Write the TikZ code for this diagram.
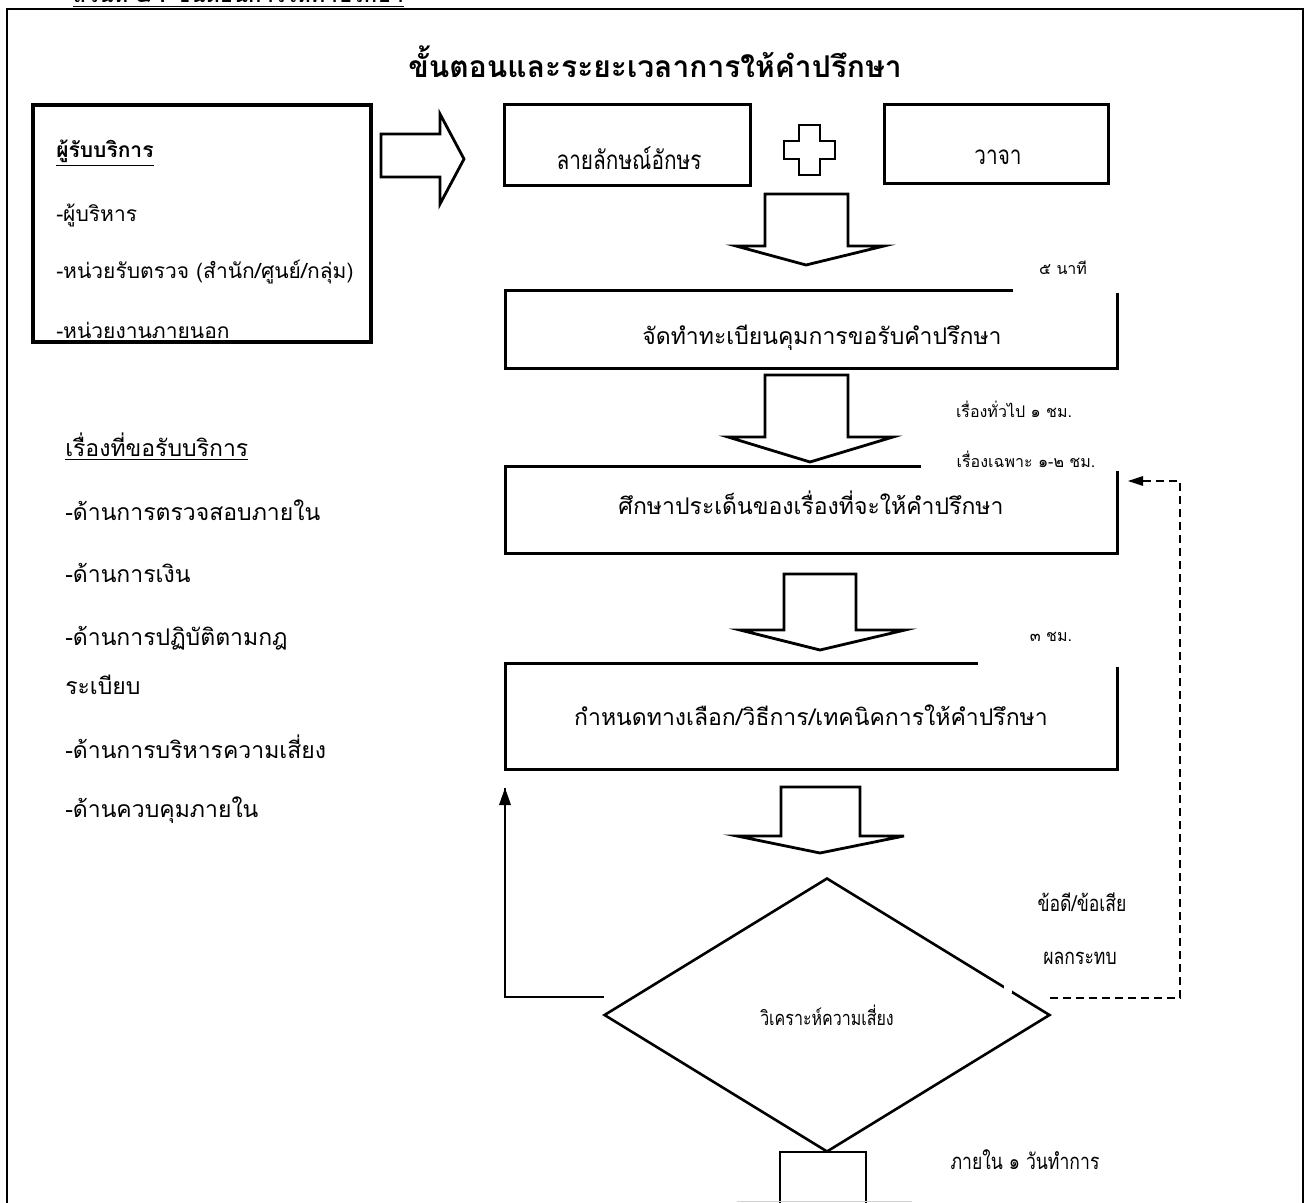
\documentclass[tikz,border=0pt]{standalone}
\usepackage{fontspec}
\usetikzlibrary{shapes.geometric}
\newfontfamily\thaifont[Script=Thai]{Loma}
\newfontfamily\thainarrow[Script=Thai,FakeStretch=0.8]{Loma}

\tikzset{every picture/.style={line width=0.75pt}}
\tikzset{
  stepbox/.style={draw, line width=1.5pt, inner sep=0pt},
  blockarrow/.style={line width=1.4pt, line join=miter},
  maskfill/.style={fill=white, draw=none},
  boxtext/.style={inner sep=0.75pt, font=\thaifont\fontsize{11.5}{13}\selectfont},
  sidetext/.style={anchor=west, inner sep=0.75pt, font=\thaifont\fontsize{11.5}{13}\selectfont},
  clienttext/.style={anchor=west, inner sep=0.75pt, font=\thaifont\fontsize{10.5}{12}\selectfont},
  smalltext/.style={inner sep=0.75pt, font=\thaifont\fontsize{8}{9.5}\selectfont},
  narrowtext/.style={inner sep=0.75pt, font=\thainarrow\fontsize{13}{15}\selectfont},
  looptext/.style={inner sep=0.75pt, font=\thainarrow\fontsize{11}{13}\selectfont},
}

\begin{document}
\begin{tikzpicture}[x=0.5pt,y=0.5pt,yscale=-1,xscale=1]
	\useasboundingbox (0,0) rectangle (1310,1203);
	
	%Frame of the page
	\draw [line width=1pt] (7,1215) -- (7,9) -- (1303,9) -- (1303,1215) ;
	
	% Text Node
	\node [anchor=base west, inner sep=0pt, font=\thaifont\bfseries\fontsize{11}{13}\selectfont] (pagehead) at (72,3) {\underline{ส่วนที่ ๕ : ขั้นตอนการให้คำปรึกษา}};
	% Text Node
	\node [inner sep=0.75pt, font=\thaifont\bfseries\fontsize{15}{18}\selectfont] (title) at (655,62) {ขั้นตอนและระยะเวลาการให้คำปรึกษา};
	
	%Shape: Rectangle
	\node [stepbox, line width=2pt, minimum width=169pt, minimum height=118.5pt] (clientbox) at (202,223.5) {};
	\begin{scope}
		\clip (34,107) rectangle (368,340);
		\node [clienttext] (clienthead) at (54,153) {\textbf{\underline{ผู้รับบริการ}}};
		\node [clienttext] (clientexec) at (54,215) {-ผู้บริหาร};
		\node [clienttext] (clientunit) at (54,272) {-หน่วยรับตรวจ (สำนัก/ศูนย์/กลุ่ม)};
		\node [clienttext] (clientout) at (54,330) {-หน่วยงานภายนอก};
	\end{scope}
	
	%Shape: Right Arrow
	\draw [blockarrow] (381,134) -- (440,134) -- (440,114) -- (464,159) -- (440,204) -- (440,177) -- (381,177) -- cycle ;
	
	%Shape: Rectangle
	\node [stepbox, minimum width=123pt, minimum height=40.5pt] (letterbox) at (627,145.5) {};
	\node [narrowtext] (lettertext) at (629,158) {ลายลักษณ์อักษร};
	%Shape: Cross
	\draw [blockarrow] (799,125) -- (820,125) -- (820,141) -- (835,141) -- (835,159) -- (820,159) -- (820,175) -- (799,175) -- (799,159) -- (784,159) -- (784,141) -- (799,141) -- cycle ;
	%Shape: Rectangle
	\node [stepbox, minimum width=112pt, minimum height=39.5pt] (speechbox) at (996,144.5) {};
	\node [narrowtext] (speechtext) at (998,157) {วาจา};
	
	%Shape: Down Arrow
	\draw [blockarrow] (765,246) -- (765,194) -- (848,194) -- (848,246) -- (884,246) -- (806,265) -- (736,246) -- cycle ;
	
	%Shape: Rectangle
	\node [stepbox, minimum width=306pt, minimum height=38.5pt] (regbox) at (811,329.5) {};
	\fill [maskfill] (1013,245) rectangle (1120,293) ;
	\node [boxtext] (regtext) at (822,338) {จัดทำทะเบียนคุมการขอรับคำปรึกษา};
	\node [smalltext] (fivemin) at (1063,268) {๕ นาที};
	
	%Shape: Down Arrow
	\draw [blockarrow] (765,437) -- (765,375) -- (848,375) -- (848,437) -- (893,437) -- (810,462) -- (728,437) -- cycle ;
	\node [smalltext] (generaltime) at (1014,409) {เรื่องทั่วไป ๑ ชม.};
	
	%Shape: Rectangle
	\node [stepbox, minimum width=306pt, minimum height=43.5pt] (studybox) at (811,509.5) {};
	\fill [maskfill] (921,446) rectangle (1120,471) ;
	\node [boxtext] (studytext) at (811,503) {ศึกษาประเด็นของเรื่องที่จะให้คำปรึกษา};
	\node [smalltext] (specialtime) at (1026,459) {เรื่องเฉพาะ ๑-๒ ชม.};
	
	%Shape: Down Arrow
	\draw [blockarrow] (784,630) -- (784,574) -- (856,574) -- (856,630) -- (905,630) -- (820,650) -- (740,630) -- cycle ;
	
	%Shape: Rectangle
	\node [stepbox, minimum width=306pt, minimum height=53pt] (methodbox) at (811,716) {};
	\fill [maskfill] (978,615) rectangle (1120,667) ;
	\node [boxtext] (methodtext) at (811,715) {กำหนดทางเลือก/วิธีการ/เทคนิคการให้คำปรึกษา};
	\node [smalltext] (threehour) at (1051,637) {๓ ชม.};
	
	%Shape: Down Arrow
	\draw [blockarrow] (781,836) -- (781,787) -- (860,787) -- (860,836) -- (904,836) -- (820,853) -- (737,836) -- cycle ;
	
	%Shape: Diamond
	\node [draw, shape=diamond, line width=1.3pt, minimum width=223pt, minimum height=137pt, inner sep=0pt, font=\thainarrow\fontsize{10}{12}\selectfont] (risk) at (827,1015) {วิเคราะห์ความเสี่ยง};
	\fill [maskfill] (1004,984) rectangle (1012,993) ;
	\node [looptext] (prostext) at (1082,902) {ข้อดี/ข้อเสีย};
	\node [looptext] (impacttext) at (1080,958) {ผลกระทบ};
	
	%Straight Lines: back to the method box
	\coordinate (riskleft) at (604,997);
	\coordinate (backtip) at (505,788);
	\draw (riskleft) -| (backtip) ;
	\fill [shift={(backtip)}] (0,0) -- (-6,17) -- (6,17) -- cycle ;
	
	%Straight Lines: dashed loop to the study box
	\coordinate (riskright) at (1050,998);
	\coordinate (loopcorner) at (1180,481);
	\coordinate (looptip) at (1128,481);
	\draw [dash pattern=on 4pt off 2.5pt, line width=0.9pt] (riskright) -| (loopcorner) -- (looptip) ;
	\fill [shift={(looptip)}] (0,0) -- (15,-5) -- (15,5) -- cycle ;
	
	%Shape: Down Arrow (cut by the page)
	\draw [blockarrow] (780,1215) -- (780,1152) -- (866,1152) -- (866,1215) ;
	\draw [gray!35, line width=0.5pt] (737,1201) -- (912,1201) ;
	\node [looptext] (oneday) at (1025,1160) {ภายใน ๑ วันทำการ};
	
	% Text Node
	\node [sidetext] (topichead) at (63,447) {\underline{เรื่องที่ขอรับบริการ}};
	\node [sidetext] (topicaudit) at (63,510) {-ด้านการตรวจสอบภายใน};
	\node [sidetext] (topicfinance) at (63,573) {-ด้านการเงิน};
	\node [sidetext] (topicrules) at (63,638) {-ด้านการปฏิบัติตามกฎ};
	\node [sidetext] (topicrules2) at (63,685) {ระเบียบ};
	\node [sidetext] (topicrisk) at (63,747) {-ด้านการบริหารความเสี่ยง};
	\node [sidetext] (topiccontrol) at (63,810) {-ด้านควบคุมภายใน};
	
\end{tikzpicture}
\end{document}
